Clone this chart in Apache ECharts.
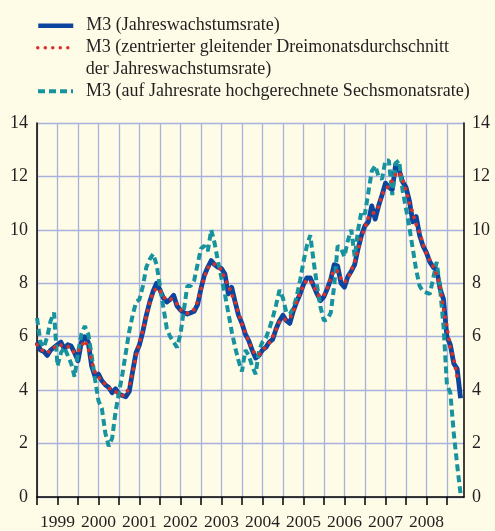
<!DOCTYPE html>
<html>
<head>
<meta charset="utf-8">
<script src="https://cdn.jsdelivr.net/npm/echarts@6/dist/echarts.min.js"></script>
<style>
  html, body { margin: 0; padding: 0; background: #fefce7; }
  #main { width: 495px; height: 531px; }
</style>
</head>
<body>
<div id="main"></div>
<script>
// monthly values, Jan 1999 .. May 2009
var yearLabels = ['1999', '2000', '2001', '2002', '2003', '2004', '2005', '2006', '2007', '2008'];

var annualGrowth = [
  5.8, 5.5, 5.45, 5.3, 5.5, 5.6, 5.7, 5.8, 5.55, 5.7, 5.65, 5.4,
  5.1, 5.8, 6.0, 5.8, 4.9, 4.5, 4.6, 4.35, 4.2, 4.1, 3.9, 4.05,
  3.85, 3.8, 3.75, 3.95, 4.7, 5.4, 5.7, 6.2, 6.8, 7.3, 7.7, 8.0,
  7.75, 7.45, 7.3, 7.4, 7.55, 7.15, 7.0, 6.9, 6.85, 6.9, 6.95, 7.2,
  7.8, 8.3, 8.6, 8.85, 8.7, 8.6, 8.55, 8.35, 7.6, 7.85, 7.3, 6.8,
  6.5, 6.1, 5.85, 5.5, 5.2, 5.3, 5.5, 5.6, 5.8, 5.9, 6.3, 6.6,
  6.8, 6.6, 6.5, 6.95, 7.3, 7.6, 7.95, 8.2, 8.2, 7.9, 7.6, 7.35,
  7.5, 7.8, 8.15, 8.7, 8.65, 8.0, 7.85, 8.25, 8.45, 8.7, 9.3, 9.8,
  10.15, 10.3, 10.9, 10.4, 10.9, 11.3, 11.75, 11.6, 11.5, 12.45, 12.25, 11.8,
  11.6, 11.1, 10.3, 10.5, 9.8, 9.4, 9.15, 8.8, 8.6, 8.5, 7.8, 7.4,
  6.0, 5.7, 5.0, 4.8, 3.7
];

var centredAverage = [
  5.7, 5.58, 5.42, 5.42, 5.47, 5.6, 5.7, 5.68, 5.68, 5.63, 5.58, 5.38,
  5.43, 5.63, 5.87, 5.57, 5.07, 4.67, 4.48, 4.38, 4.22, 4.07, 4.02, 3.93,
  3.9, 3.8, 3.83, 4.13, 4.68, 5.27, 5.77, 6.23, 6.77, 7.27, 7.67, 7.82,
  7.73, 7.5, 7.38, 7.42, 7.37, 7.23, 7.02, 6.92, 6.88, 6.9, 7.02, 7.32,
  7.77, 8.23, 8.58, 8.72, 8.72, 8.62, 8.5, 8.17, 7.93, 7.58, 7.32, 6.87,
  6.47, 6.15, 5.82, 5.52, 5.33, 5.33, 5.47, 5.63, 5.77, 6.0, 6.27, 6.57,
  6.67, 6.63, 6.68, 6.92, 7.28, 7.62, 7.92, 8.12, 8.1, 7.9, 7.62, 7.48,
  7.55, 7.82, 8.22, 8.5, 8.45, 8.17, 8.03, 8.18, 8.47, 8.82, 9.27, 9.75,
  10.08, 10.45, 10.53, 10.73, 10.87, 11.32, 11.55, 11.62, 11.85, 12.07, 12.17, 11.88,
  11.5, 11.0, 10.63, 10.2, 9.9, 9.45, 9.12, 8.85, 8.63, 8.3, 7.9, 7.07,
  6.37, 5.57, 5.17, 4.5, null
];

var sixMonthAnnualised = [
  6.7, 5.8, 5.6, 6.0, 6.6, 6.9, 4.9, 5.4, 5.6, 5.3, 5.0, 4.5,
  5.4, 6.1, 6.4, 6.1, 5.3, 4.4, 3.6, 3.3, 2.4, 1.9, 2.2, 3.2,
  3.9, 4.6, 5.4, 6.2, 6.8, 7.3, 7.4, 7.9, 8.6, 8.9, 9.1, 8.7,
  7.9, 7.1, 6.3, 6.0, 5.8, 5.6, 6.1, 7.0, 7.9, 7.9, 8.1, 8.7,
  9.3, 9.4, 9.2, 10.0, 9.5, 8.8, 8.2, 7.6, 6.9, 6.2, 5.6, 5.1,
  4.7, 5.5, 5.3, 4.9, 4.6, 5.5, 5.8, 5.95, 6.3, 6.7, 7.2, 7.75,
  7.45, 6.9, 6.85, 7.05, 7.5, 8.1, 8.8, 9.4, 9.8, 8.8, 7.9, 7.1,
  6.6, 6.65, 6.9, 7.9, 9.4, 9.3, 9.0, 9.6, 10.0, 9.0, 10.0, 10.7,
  10.6, 11.4, 12.2, 12.4, 12.0, 11.9, 12.6, 12.6, 11.3, 12.5, 12.6, 11.5,
  10.8, 10.1, 9.3, 8.5, 7.9, 7.7, 7.65, 7.6, 8.2, 8.8, 7.8, 6.4,
  4.2, 3.9, 2.4, 1.2, 0.1
];

var seriesNames = [
  'M3 (Jahreswachstumsrate)',
  'M3 (zentrierter gleitender Dreimonatsdurchschnitt\nder Jahreswachstumsrate)',
  'M3 (auf Jahresrate hochgerechnete Sechsmonatsrate)'
];

var blue = '#0b459e';
var teal = '#17929f';
var red = '#d9322b';

function toPairs(arr) {
  return arr.map(function (v, i) { return [i, v]; });
}

var tickValues = [];
for (var t = 0; t <= 120; t += 6) tickValues.push(t);
var labelValues = yearLabels.map(function (y, i) { return i * 12 + 6; });

var serif = '"Liberation Serif", "Times New Roman", serif';
var textColor = '#231f20';
var gridColor = '#a9b1dd';

var chartDom = document.getElementById('main');
var myChart = echarts.init(chartDom);
var option;

// one legend per entry so the two-line entry keeps its icon on the first line
function legendBox(name, top, lineWidth, firstLineOnIcon) {
  return {
    data: [name],
    left: 36,
    top: top,
    padding: 0,
    itemWidth: 35,
    itemHeight: 21,
    selectedMode: false,
    itemStyle: { opacity: 0 },
    lineStyle: { width: lineWidth },
    formatter: function (n) {
      return firstLineOnIcon ? ' \n' + n : n;
    },
    textStyle: {
      fontFamily: serif,
      fontSize: 18,
      lineHeight: 21.5,
      color: textColor,
      padding: [0, 0, 0, 8]
    }
  };
}

option = {
  backgroundColor: '#fefce7',
  animation: false,
  legend: [
    legendBox(seriesNames[0], 15, 4.5, false),
    legendBox(seriesNames[1], 15.5, 3.5, true),
    legendBox(seriesNames[2], 80.5, 4, false)
  ],
  grid: {
    left: 37,
    right: 31,
    top: 123,
    bottom: 31
  },
  xAxis: {
    type: 'value',
    min: 0,
    max: 125,
    interval: 6,
    axisLine: { lineStyle: { color: '#000', width: 1.5 } },
    axisTick: {
      show: true,
      length: 8,
      customValues: tickValues,
      lineStyle: { color: '#000', width: 1.5 }
    },
    axisLabel: {
      customValues: labelValues,
      margin: 16,
      fontFamily: serif,
      fontSize: 17.5,
      color: textColor,
      formatter: function (v) {
        var idx = Math.round((v - 6) / 12);
        return yearLabels[idx] || '';
      }
    },
    splitLine: { show: true, lineStyle: { color: gridColor, width: 1.3 } }
  },
  yAxis: [
    {
      type: 'value',
      position: 'left',
      min: 0,
      max: 14,
      interval: 2,
      axisLine: { show: true, lineStyle: { color: '#000', width: 1.5 } },
      axisTick: { show: false },
      axisLabel: { margin: 9, fontFamily: serif, fontSize: 18, color: textColor },
      splitLine: { show: true, lineStyle: { color: gridColor, width: 1.3 } }
    },
    {
      type: 'value',
      position: 'right',
      min: 0,
      max: 14,
      interval: 2,
      axisLine: { show: true, lineStyle: { color: '#000', width: 1.5 } },
      axisTick: { show: false },
      axisLabel: { margin: 8, fontFamily: serif, fontSize: 18, color: textColor },
      splitLine: { show: false }
    }
  ],
  series: [
    {
      name: seriesNames[0],
      type: 'line',
      data: toPairs(annualGrowth),
      showSymbol: false,
      symbol: 'none',
      lineStyle: { color: blue, width: 4.8, join: 'round' },
      itemStyle: { color: blue },
      z: 2
    },
    {
      name: seriesNames[2],
      type: 'line',
      data: toPairs(sixMonthAnnualised),
      showSymbol: false,
      symbol: 'none',
      lineStyle: { color: teal, width: 4, type: [7, 4] },
      itemStyle: { color: teal },
      z: 3
    },
    {
      name: seriesNames[1],
      type: 'line',
      data: toPairs(centredAverage),
      showSymbol: false,
      symbol: 'none',
      lineStyle: { color: red, width: 3.8, type: [0.01, 7.5], cap: 'round' },
      itemStyle: { color: red },
      z: 4
    }
  ]
};

option && myChart.setOption(option);
</script>
</body>
</html>
